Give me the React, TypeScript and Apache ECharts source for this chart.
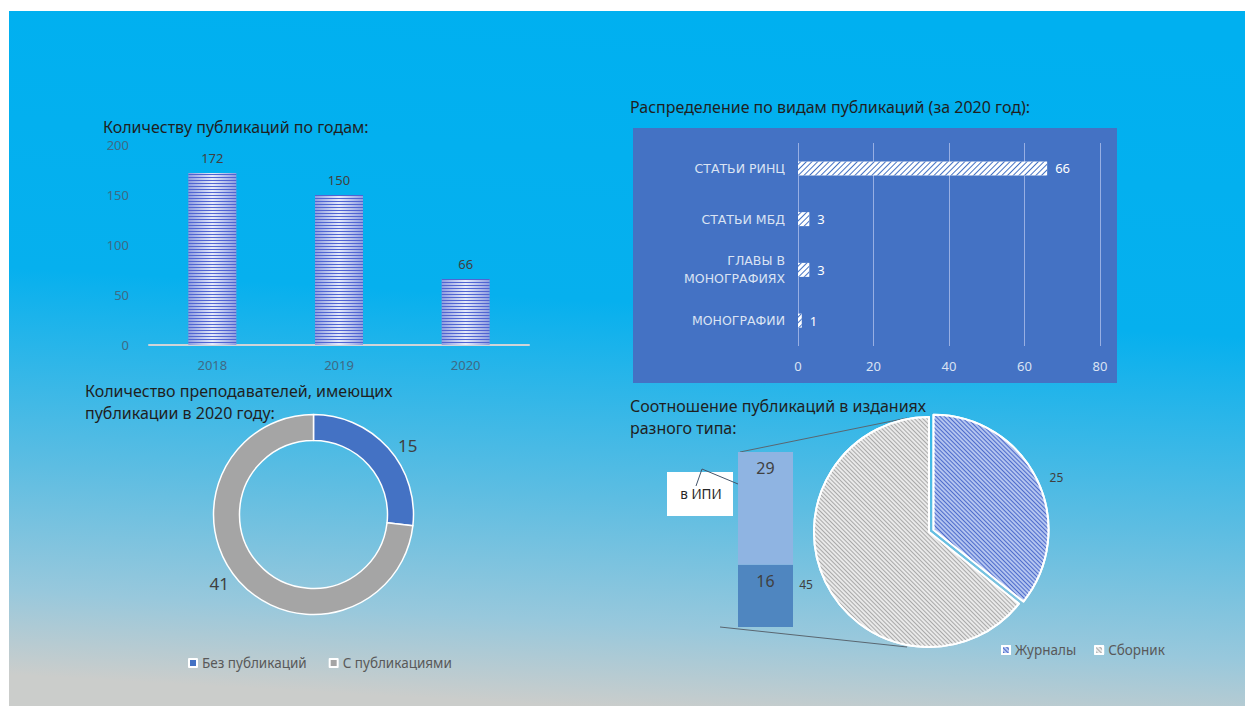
import React, { useEffect, useRef } from 'react';
import * as echarts from 'echarts';

// ---------- data ----------
const years = ['2018', '2019', '2020'];
const pubsPerYear = [172, 150, 66];
const yearAxisMin = 0;
const yearAxisMax = 200;
const yearAxisStep = 50;

const pubTypes = ['МОНОГРАФИИ', 'ГЛАВЫ В МОНОГРАФИЯХ', 'СТАТЬИ МБД', 'СТАТЬИ РИНЦ'];
const pubTypeValues = [1, 3, 3, 66];
const typeAxisMax = 80;
const typeAxisStep = 20;

const teacherNames = ['Без публикаций', 'С публикациями'];
const teacherValues = [15, 41];

const outletNames = ['Журналы', 'Сборник'];
const outletValues = [25, 45];

const collectionParts = ['прочие', 'в ИПИ'];
const collectionValues = [16, 29];

const FONT = '"Noto Sans", "Open Sans", sans-serif';

export default function App() {
  const ref = useRef<HTMLDivElement>(null);

  useEffect(() => {
    if (!ref.current) return;
    const chart = echarts.init(ref.current, undefined, { renderer: 'svg' });

    const barFill = new echarts.graphic.LinearGradient(0, 0, 1, 0, [
      { offset: 0, color: '#8e9ce0' },
      { offset: 0.5, color: '#e6ebfb' },
      { offset: 1, color: '#8e9ce0' },
    ]);

    const option: any = {
      animation: false,
      textStyle: { fontFamily: FONT },
      graphic: [
        {
          type: 'rect',
          z: -10,
          shape: { x: 9, y: 11, width: 1236, height: 695 },
          style: {
            fill: new echarts.graphic.LinearGradient(0.55, 0, 0.45, 1, [
              { offset: 0, color: '#00b0f0' },
              { offset: 0.42, color: '#06b0ee' },
              { offset: 0.7, color: '#5dbde2' },
              { offset: 0.88, color: '#98c8dc' },
              { offset: 1, color: '#cbcdcb' },
            ]),
          },
        },
        {
          type: 'rect',
          z: -5,
          shape: { x: 633, y: 128, width: 484, height: 255 },
          style: { fill: '#4472c4' },
        },
        {
          type: 'text',
          x: 103,
          y: 127,
          style: { text: 'Количеству публикаций по годам:', fill: '#1f1f1f', fontSize: 16, fontFamily: FONT, verticalAlign: 'middle' },
        },
        {
          type: 'text',
          x: 630,
          y: 107,
          style: { text: 'Распределение по видам публикаций (за 2020 год):', fill: '#1f1f1f', fontSize: 16, fontFamily: FONT, verticalAlign: 'middle' },
        },
        {
          type: 'text',
          x: 85,
          y: 391,
          style: { text: 'Количество преподавателей, имеющих', fill: '#1f1f1f', fontSize: 16, fontFamily: FONT, verticalAlign: 'middle' },
        },
        {
          type: 'text',
          x: 85,
          y: 413,
          style: { text: 'публикации в 2020 году:', fill: '#1f1f1f', fontSize: 16, fontFamily: FONT, verticalAlign: 'middle' },
        },
        {
          type: 'text',
          x: 630,
          y: 406,
          style: { text: 'Соотношение публикаций в изданиях', fill: '#1f1f1f', fontSize: 16, fontFamily: FONT, verticalAlign: 'middle' },
        },
        {
          type: 'text',
          x: 630,
          y: 428,
          style: { text: 'разного типа:', fill: '#1f1f1f', fontSize: 16, fontFamily: FONT, verticalAlign: 'middle' },
        },
        // connector lines of the bar-of-pie
        {
          type: 'line',
          shape: { x1: 740, y1: 452, x2: 907, y2: 418 },
          style: { stroke: '#5a6670', lineWidth: 1 },
        },
        {
          type: 'line',
          shape: { x1: 720, y1: 627, x2: 907, y2: 647 },
          style: { stroke: '#5a6670', lineWidth: 1 },
        },
        // callout box "в ИПИ"
        {
          type: 'rect',
          shape: { x: 667, y: 472, width: 66, height: 44 },
          style: { fill: '#ffffff' },
        },
        {
          type: 'text',
          x: 701,
          y: 494,
          style: { text: 'в ИПИ', fill: '#262626', fontSize: 13.5, fontFamily: FONT, align: 'center', verticalAlign: 'middle' },
        },
        {
          type: 'polyline',
          shape: { points: [[696, 486], [702, 469], [738, 484]] },
          style: { stroke: '#44546a', lineWidth: 1, fill: 'none' },
        },
      ],
      grid: [
        { left: 149, top: 145, width: 380, height: 200 },
        { left: 798, top: 143, width: 302, height: 203 },
        { left: 738, top: 452, width: 55, height: 175 },
      ],
      xAxis: [
        {
          gridIndex: 0,
          type: 'category',
          data: years,
          axisLine: { lineStyle: { color: '#d0d4d8', width: 2 } },
          axisTick: { show: false },
          axisLabel: { color: '#3f6a85', fontSize: 13, margin: 13 },
        },
        {
          gridIndex: 1,
          type: 'value',
          min: 0,
          max: typeAxisMax,
          interval: typeAxisStep,
          axisLine: { show: false },
          axisTick: { show: false },
          splitLine: { lineStyle: { color: '#98afe3', width: 1 } },
          axisLabel: { color: '#dae3f3', fontSize: 13, margin: 13 },
        },
        {
          gridIndex: 2,
          type: 'category',
          data: ['Сборник'],
          show: false,
        },
      ],
      yAxis: [
        {
          gridIndex: 0,
          type: 'value',
          min: yearAxisMin,
          max: yearAxisMax,
          interval: yearAxisStep,
          axisLine: { show: false },
          axisTick: { show: false },
          splitLine: { show: false },
          axisLabel: { color: '#3f6a85', fontSize: 13, margin: 20 },
        },
        {
          gridIndex: 1,
          type: 'category',
          data: pubTypes,
          axisLine: { show: false },
          axisTick: { show: false },
          axisLabel: {
            color: '#dae3f3',
            fontSize: 12.5,
            fontFamily: '"DejaVu Sans", sans-serif',
            fontWeight: 'normal',
            margin: 13,
            lineHeight: 18,
            formatter: (v: string) => v.replace('ГЛАВЫ В ', 'ГЛАВЫ В\n'),
          },
        },
        {
          gridIndex: 2,
          type: 'value',
          min: 0,
          max: collectionValues[0] + collectionValues[1],
          show: false,
        },
      ],
      legend: [
        {
          data: teacherNames,
          left: 183,
          top: 651,
          icon: 'rect',
          itemWidth: 8,
          itemHeight: 8,
          itemGap: 22,
          textStyle: { color: '#595959', fontSize: 13.5, fontFamily: FONT },
        },
        {
          data: outletNames,
          left: 996,
          top: 638,
          icon: 'rect',
          itemWidth: 8,
          itemHeight: 8,
          itemGap: 18,
          textStyle: { color: '#595959', fontSize: 13.5, fontFamily: FONT },
        },
      ],
      series: [
        {
          type: 'bar',
          name: 'Публикации',
          xAxisIndex: 0,
          yAxisIndex: 0,
          data: pubsPerYear,
          barWidth: 48,
          itemStyle: {
            color: barFill,
            decal: {
              symbol: 'rect',
              symbolSize: 1,
              dashArrayX: [1, 0],
              dashArrayY: [1, 2],
              rotation: 0,
              color: '#5064d2',
            },
          },
          label: { show: true, position: 'top', distance: 9, color: '#404040', fontSize: 13 },
        },
        {
          type: 'bar',
          name: 'Виды',
          xAxisIndex: 1,
          yAxisIndex: 1,
          data: pubTypeValues,
          barWidth: 14,
          itemStyle: {
            color: '#ffffff',
            decal: {
              symbol: 'rect',
              symbolSize: 1,
              dashArrayX: [1, 0],
              dashArrayY: [1, 2.2],
              rotation: -Math.PI / 4,
              color: '#4472c4',
            },
          },
          label: { show: true, position: 'right', distance: 8, color: '#ffffff', fontSize: 13 },
        },
        {
          type: 'pie',
          name: 'Преподаватели',
          center: [313.5, 514.5],
          radius: [74, 100],
          startAngle: 90,
          clockwise: true,
          data: teacherNames.map((n, i) => ({ name: n, value: teacherValues[i] })),
          color: ['#4472c4', '#a5a5a5'],
          itemStyle: { borderColor: '#ffffff', borderWidth: 1.5 },
          label: { show: true, position: 'outside', color: '#404040', fontSize: 17, formatter: '{c}' },
          labelLine: { show: false, length: 4, length2: 2 },
        },
        {
          type: 'pie',
          name: 'Издания',
          center: [929, 532],
          radius: 115,
          startAngle: 90,
          clockwise: true,
          selectedMode: 'single',
          selectedOffset: 5,
          data: [
            {
              name: outletNames[0],
              value: outletValues[0],
              selected: true,
              itemStyle: {
                color: '#b3c4ef',
                decal: { symbol: 'rect', symbolSize: 1, dashArrayX: [1, 0], dashArrayY: [1, 2], rotation: Math.PI / 4, color: '#4d6bcc' },
              },
            },
            {
              name: outletNames[1],
              value: outletValues[1],
              itemStyle: {
                color: '#e9e9e9',
                decal: { symbol: 'rect', symbolSize: 1, dashArrayX: [1, 0], dashArrayY: [1, 2], rotation: Math.PI / 4, color: '#a9a9a9' },
              },
            },
          ],
          itemStyle: { borderColor: '#ffffff', borderWidth: 2 },
          label: { show: true, position: 'outside', color: '#404040', fontSize: 12, formatter: '{c}' },
          labelLine: { show: false, length: 6, length2: 2 },
        },
        {
          type: 'bar',
          name: collectionParts[0],
          xAxisIndex: 2,
          yAxisIndex: 2,
          stack: 'col',
          barWidth: '100%',
          data: [collectionValues[0]],
          itemStyle: { color: '#4f86c0' },
          label: { show: true, position: 'insideTop', distance: 8, color: '#404040', fontSize: 16 },
        },
        {
          type: 'bar',
          name: collectionParts[1],
          xAxisIndex: 2,
          yAxisIndex: 2,
          stack: 'col',
          barWidth: '100%',
          data: [collectionValues[1]],
          itemStyle: { color: '#8fb4e2' },
          label: { show: true, position: 'insideTop', distance: 8, color: '#404040', fontSize: 16 },
        },
      ],
    };

    chart.setOption(option);
    return () => chart.dispose();
  }, []);

  return (
    <div
      ref={ref}
      style={{ position: 'absolute', left: 0, top: 0, width: 1245, height: 706 }}
    />
  );
}
